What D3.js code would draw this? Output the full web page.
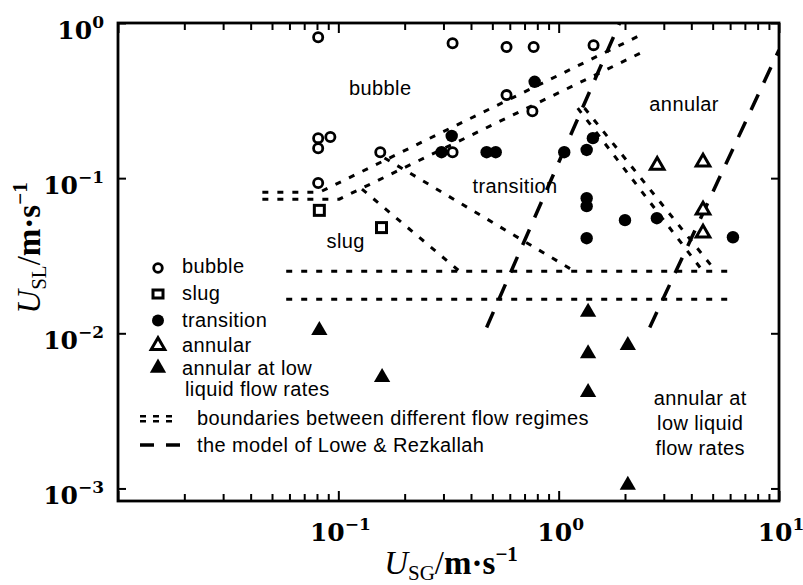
<!DOCTYPE html>
<html><head><meta charset="utf-8">
<script src="https://cdn.jsdelivr.net/npm/d3@7"></script>
<style>
html,body{margin:0;padding:0;background:#fff;}
svg{display:block;}
.sans{font-family:"Liberation Sans",Arial,sans-serif;letter-spacing:0.4px;}
</style></head>
<body>
<svg id="c" width="803" height="585"></svg>
<script>
// ---- data (U_SG, U_SL in m/s) ----
const bubbleX = [0.081,0.33,0.58,0.77,1.44,0.58,0.76,0.081,0.092,0.081,0.155,0.33,0.081];
const bubbleY = [0.81,0.74,0.70,0.70,0.72,0.343,0.27,0.181,0.184,0.156,0.147,0.147,0.093];
const slugX = [0.082,0.157];
const slugY = [0.062,0.048];
const transX = [0.327,0.294,0.471,0.518,0.778,1.06,1.43,1.34,1.34,1.34,2.0,2.79,1.34,6.18];
const transY = [0.187,0.147,0.147,0.147,0.418,0.147,0.181,0.152,0.0743,0.066,0.0536,0.0552,0.041,0.0416];
const annX = [2.8,4.52,4.52,4.52];
const annY = [0.121,0.127,0.0622,0.0442];
const lowX = [0.082,0.158,1.36,1.36,1.36,2.06,2.06];
const lowY = [0.01045,0.0052,0.0137,0.0074,0.00416,0.00837,0.00105];

// boundaries between flow regimes (dotted)
const boundA = [[0.0452,0.081],[0.082,0.081],[2.46,0.862]];
const boundB = [[0.0452,0.0732],[0.101,0.0732],[2.46,0.66]];
const boundD = [[0.162,0.135],[1.18,0.0251]];
const boundE = [[0.128,0.085],[0.355,0.0251]];
const boundF1 = [[1.31,0.283],[5.17,0.0251]];
const boundF2 = [[1.22,0.283],[4.52,0.0251]];
const boundH1 = [[0.058,0.0251],[6.0,0.0251]];
const boundH2 = [[0.058,0.0166],[6.0,0.0166]];
// model of Lowe & Rezkallah (long dashes)
const model1 = [[0.471,0.0109],[1.89,1.0]];
const model2 = [[2.59,0.0109],[10,0.67]];

const xMajor = [0.01,0.1,1,10];
const xLabels = [[0.1,"\u22121"],[1,"0"],[10,"1"]];
const yMajor = [1,0.1,0.01,0.001];
const yLabels = [[1,"0"],[0.1,"\u22121"],[0.01,"\u22122"],[0.001,"\u22123"]];

const legendItems = ["bubble","slug","transition","annular","annular at low"];
const regionLabels = [
  {t:"bubble", x:0.155, y:0.343},
  {t:"transition", x:0.634, y:0.080},
  {t:"slug", x:0.108, y:0.0354},
  {t:"annular", x:3.71, y:0.271}
];
const lowRegionLines = ["annular at","low liquid","flow rates"];

// ---- drawing ----
const svg = d3.select("#c");
svg.append("rect").attr("width",803).attr("height",585).attr("fill","#fff");
const x = d3.scaleLog().domain([0.01,10]).range([118,779]);
const y = d3.scaleLog().domain([1,0.00083]).range([23,501]);

svg.append("clipPath").attr("id","pc").append("rect")
  .attr("x",x(0.01)).attr("y",y(1)).attr("width",x(10)-x(0.01)).attr("height",y(0.00083)-y(1));

const line = d3.line().x(d=>x(d[0])).y(d=>y(d[1]));
const gl = svg.append("g").attr("clip-path","url(#pc)");
[boundA,boundB,boundD,boundE,boundF1,boundF2,boundH1,boundH2].forEach(p=>{
  gl.append("path").attr("d",line(p)).attr("fill","none").attr("stroke","#000")
    .attr("stroke-width",3).attr("stroke-dasharray","6,9");
});
[model1,model2].forEach(p=>{
  gl.append("path").attr("d",line(p)).attr("fill","none").attr("stroke","#000")
    .attr("stroke-width",3.5).attr("stroke-dasharray","17,13");
});

// markers
const gm = svg.append("g");
function pts(xs,ys){return xs.map((v,i)=>[v,ys[i]]);}
const triFilled = d3.symbol().type(d3.symbolTriangle).size(115);
const triOpen = d3.symbol().type(d3.symbolTriangle).size(80);
gm.selectAll(".tr").data(pts(transX,transY)).join("circle")
  .attr("cx",d=>x(d[0])).attr("cy",d=>y(d[1])).attr("r",6.2).attr("fill","#000");
gm.selectAll(".bu").data(pts(bubbleX,bubbleY)).join("circle")
  .attr("cx",d=>x(d[0])).attr("cy",d=>y(d[1])).attr("r",4.6).attr("fill","#fff")
  .attr("stroke","#000").attr("stroke-width",2.8);
gm.selectAll(".sl").data(pts(slugX,slugY)).join("rect")
  .attr("x",d=>x(d[0])-5).attr("y",d=>y(d[1])-5).attr("width",10).attr("height",10)
  .attr("fill","#fff").attr("stroke","#000").attr("stroke-width",3);
gm.selectAll(".an").data(pts(annX,annY)).join("path")
  .attr("transform",d=>`translate(${x(d[0])},${y(d[1])})`).attr("d",triOpen)
  .attr("fill","#fff").attr("stroke","#000").attr("stroke-width",3);
gm.selectAll(".lo").data(pts(lowX,lowY)).join("path")
  .attr("transform",d=>`translate(${x(d[0])},${y(d[1])})`).attr("d",triFilled).attr("fill","#000");

// axes (inward ticks)
const xMinor = [];
[0.01,0.1,1].forEach(d=>{for(let k=2;k<=9;k++) xMinor.push(d*k);});
function styleAxis(g){g.select(".domain").remove();g.selectAll("line").attr("stroke","#000").attr("stroke-width",2);g.selectAll("text").remove();}
svg.append("g").attr("transform",`translate(0,${y(0.00083)})`).call(d3.axisBottom(x).tickValues(xMinor).tickSize(-7).tickFormat("")).call(styleAxis);
svg.append("g").attr("transform",`translate(0,${y(0.00083)})`).call(d3.axisBottom(x).tickValues(xMajor).tickSize(-10).tickFormat("")).call(styleAxis);
svg.append("g").attr("transform",`translate(0,${y(1)})`).call(d3.axisTop(x).tickValues(xMinor).tickSize(-7).tickFormat("")).call(styleAxis);
svg.append("g").attr("transform",`translate(0,${y(1)})`).call(d3.axisTop(x).tickValues(xMajor).tickSize(-10).tickFormat("")).call(styleAxis);
svg.append("g").attr("transform",`translate(${x(0.01)},0)`).call(d3.axisLeft(y).tickValues(yMajor).tickSize(-8).tickFormat("")).call(styleAxis);
svg.append("g").attr("transform",`translate(${x(10)},0)`).call(d3.axisRight(y).tickValues(yMajor).tickSize(-8).tickFormat("")).call(styleAxis);

// frame
svg.append("rect").attr("x",x(0.01)).attr("y",y(1)).attr("width",x(10)-x(0.01)).attr("height",y(0.00083)-y(1))
  .attr("fill","none").attr("stroke","#000").attr("stroke-width",2.8);

// tick labels
const tickFont = "'DejaVu Serif',serif";
xLabels.forEach(([v,e])=>{
  const t = svg.append("text").attr("x",x(v)+2).attr("y",541).attr("text-anchor","middle")
    .attr("font-family",tickFont).attr("font-weight","bold").attr("font-size",25);
  t.append("tspan").text("10");
  t.append("tspan").attr("dy",-11).attr("font-size",17).text(e);
});
yLabels.forEach(([v,e])=>{
  const t = svg.append("text").attr("x",104).attr("y",y(v)+16).attr("text-anchor","end")
    .attr("font-family",tickFont).attr("font-weight","bold").attr("font-size",25);
  t.append("tspan").text("10");
  t.append("tspan").attr("dy",-11).attr("font-size",17).text(e);
});

// axis titles
function title(sel, sub){
  sel.attr("font-family","'Liberation Serif',serif").attr("font-size",33);
  sel.append("tspan").attr("font-style","italic").text("U");
  sel.append("tspan").attr("font-size",21).attr("dy",6).text(sub);
  sel.append("tspan").attr("dy",-6).text("/");
  sel.append("tspan").attr("font-weight","bold").text("m\u00B7s");
  sel.append("tspan").attr("font-weight","bold").attr("font-size",21).attr("dy",-13).text("\u22121");
}
title(svg.append("text").attr("x",451).attr("y",574).attr("text-anchor","middle"),"SG");
title(svg.append("text").attr("transform","translate(40,248) rotate(-90)").attr("text-anchor","middle"),"SL");

// region labels
const fs = 20;
regionLabels.forEach(r=>{
  svg.append("text").attr("class","sans").attr("x",x(r.x)).attr("y",y(r.y)).attr("text-anchor","middle")
    .attr("font-size",fs).text(r.t);
});
const lowLab = svg.append("text").attr("class","sans").attr("font-size",fs).attr("text-anchor","middle");
lowRegionLines.forEach((s,i)=>{
  lowLab.append("tspan").attr("x",x(4.39)).attr("y",405+i*25).text(s);
});

// legend
const lg = svg.append("g");
const ly = [273,300,326.5,351.5,375];
const lsx = 158;
lg.append("circle").attr("cx",lsx).attr("cy",ly[0]-5).attr("r",4.3).attr("fill","#fff").attr("stroke","#000").attr("stroke-width",2.8);
lg.append("rect").attr("x",lsx-5).attr("y",ly[1]-10).attr("width",10).attr("height",8).attr("fill","#fff").attr("stroke","#000").attr("stroke-width",3);
lg.append("circle").attr("cx",lsx).attr("cy",ly[2]-6).attr("r",6).attr("fill","#000");
lg.append("path").attr("transform",`translate(${lsx},${ly[3]-6})`).attr("d",triOpen).attr("fill","#fff").attr("stroke","#000").attr("stroke-width",3);
lg.append("path").attr("transform",`translate(${lsx},${ly[4]-7})`).attr("d",triFilled).attr("fill","#000");
legendItems.forEach((s,i)=>{
  lg.append("text").attr("class","sans").attr("x",182).attr("y",ly[i]).attr("font-size",fs).text(s);
});
lg.append("text").attr("class","sans").attr("x",185).attr("y",396).attr("font-size",fs).text("liquid flow rates");
[140,153,166].forEach(px=>{
  lg.append("rect").attr("x",px).attr("y",415).attr("width",6).attr("height",2.5).attr("fill","#000");
  lg.append("rect").attr("x",px).attr("y",420).attr("width",6).attr("height",2.5).attr("fill","#000");
});
lg.append("text").attr("class","sans").attr("x",197).attr("y",425).attr("font-size",fs).text("boundaries between different flow regimes");
lg.append("line").attr("x1",140).attr("x2",180).attr("y1",445).attr("y2",445).attr("stroke","#000").attr("stroke-width",3.5).attr("stroke-dasharray","14,12");
lg.append("text").attr("class","sans").attr("x",197).attr("y",452).attr("font-size",fs).text("the model of Lowe & Rezkallah");
</script>
</body></html>
